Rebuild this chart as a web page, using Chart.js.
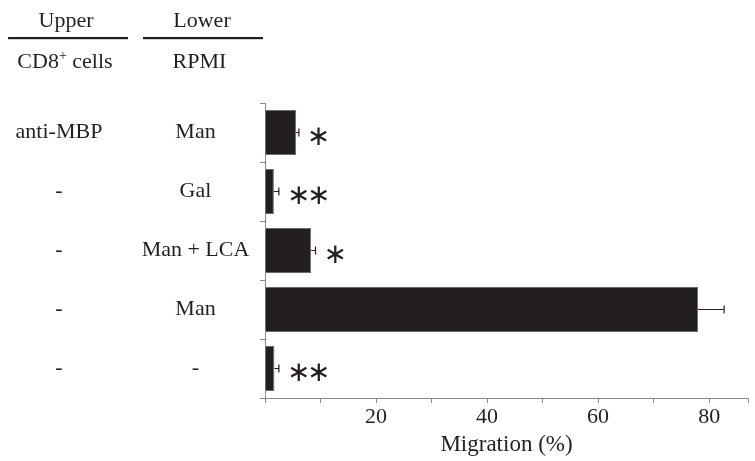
<!DOCTYPE html>
<html><head><meta charset="utf-8">
<script src="https://cdn.jsdelivr.net/npm/chart.js@4/dist/chart.umd.min.js"></script>
<style>html,body{margin:0;padding:0;background:#fff}#wrap{width:755px;height:461px;position:relative}</style>
</head><body><div id="wrap"><canvas id="c"></canvas></div>
<script>
// ---- data ----
const upperLabels = ['anti-MBP', '-', '-', '-', '-'];
const lowerLabels = ['Man', 'Gal', 'Man + LCA', 'Man', '-'];
const migration = [5.6, 1.6, 8.3, 78.0, 1.7];
const migrationErr = [0.5, 0.9, 0.8, 4.7, 0.8];
const significance = ['*', '**', '*', '', '**'];
const xTickLabels = [20, 40, 60, 80];
const headerUpper = 'Upper';
const headerLower = 'Lower';
const subUpper = ['CD8', '+', ' cells'];
const subLower = 'RPMI';

const INK = '#231f20';
const AXIS = '#8a8a8a';
const SERIF = '"Liberation Serif", "Times New Roman", serif';
const STAR = '\u2217';

const overlay = {
  id: 'overlay',
  afterDatasetsDraw(chart) {
    const ctx = chart.ctx;
    const xs = chart.scales.x, ys = chart.scales.y;
    ctx.save();
    // error bars
    ctx.strokeStyle = INK;
    ctx.lineWidth = 1.2;
    migration.forEach((v, i) => {
      const y = ys.getPixelForValue(i);
      const x1 = xs.getPixelForValue(v);
      const x2 = xs.getPixelForValue(v + migrationErr[i]);
      ctx.beginPath();
      ctx.moveTo(x1, y); ctx.lineTo(x2, y);
      ctx.moveTo(x2, y - 4); ctx.lineTo(x2, y + 4);
      ctx.stroke();
      // significance stars
      const s = significance[i];
      if (s) {
        ctx.font = '28px "DejaVu Sans"';
        ctx.fillStyle = INK;
        ctx.textAlign = 'left';
        ctx.textBaseline = 'alphabetic';
        const m = ctx.measureText(STAR);
        const yy = y + 3 + (m.actualBoundingBoxAscent - m.actualBoundingBoxDescent) / 2;
        for (let k = 0; k < s.length; k++) {
          ctx.fillText(STAR, x2 + 8 + k * 20, yy);
        }
      }
    });
    // row labels
    ctx.font = '22px ' + SERIF;
    ctx.fillStyle = INK;
    ctx.textAlign = 'center';
    ctx.textBaseline = 'alphabetic';
    upperLabels.forEach((t, i) => {
      const y = ys.getPixelForValue(i) + 5;
      ctx.fillText(t, 59, y);
      ctx.fillText(lowerLabels[i], 195.5, y);
    });
    // header
    ctx.fillText(headerUpper, 66, 27);
    ctx.fillText(headerLower, 202, 27);
    ctx.fillRect(8, 37, 120, 2.2);
    ctx.fillRect(143, 37, 120, 2.2);
    ctx.fillText(subLower, 199.5, 68);
    // CD8+ cells with superscript
    ctx.textAlign = 'left';
    const f1 = '22px ' + SERIF, f2 = '14px ' + SERIF;
    ctx.font = f1; const w1 = ctx.measureText(subUpper[0]).width;
    ctx.font = f2; const w2 = ctx.measureText(subUpper[1]).width;
    ctx.font = f1; const w3 = ctx.measureText(subUpper[2]).width;
    let x0 = 65 - (w1 + w2 + w3) / 2;
    ctx.font = f1; ctx.fillText(subUpper[0], x0, 68);
    ctx.font = f2; ctx.fillText(subUpper[1], x0 + w1, 60);
    ctx.font = f1; ctx.fillText(subUpper[2], x0 + w1 + w2, 68);
    ctx.restore();
  }
};

new Chart(document.getElementById('c'), {
  type: 'bar',
  data: {
    labels: lowerLabels,
    datasets: [{
      data: migration,
      backgroundColor: INK,
      borderColor: '#6e6a6b',
      borderWidth: 1,
      barPercentage: 0.765,
      categoryPercentage: 1.0
    }]
  },
  options: {
    indexAxis: 'y',
    responsive: true,
    maintainAspectRatio: false,
    animation: false,
    layout: { padding: { top: 103, right: 7, bottom: 0, left: 0 } },
    plugins: { legend: { display: false }, tooltip: { enabled: false } },
    scales: {
      x: {
        type: 'linear', min: 0, max: 87,
        afterFit(s) { s.height = 63; },
        ticks: {
          stepSize: 10, autoSkip: false, maxRotation: 0,
          callback: v => xTickLabels.includes(v) ? String(v) : '',
          font: { family: SERIF, size: 22 }, color: INK, padding: 1
        },
        grid: { drawOnChartArea: false, tickLength: 5, color: AXIS },
        border: { color: AXIS, width: 1 },
        title: { display: true, text: 'Migration (%)', font: { family: SERIF, size: 23 }, color: INK, padding: { top: 2, bottom: 2 } }
      },
      y: {
        type: 'category',
        afterFit(s) { s.width = 265; },
        ticks: { display: false },
        grid: { offset: true, drawOnChartArea: false, tickLength: 5, color: AXIS },
        border: { color: AXIS, width: 1 }
      }
    }
  },
  plugins: [overlay]
});
</script>
</body></html>
